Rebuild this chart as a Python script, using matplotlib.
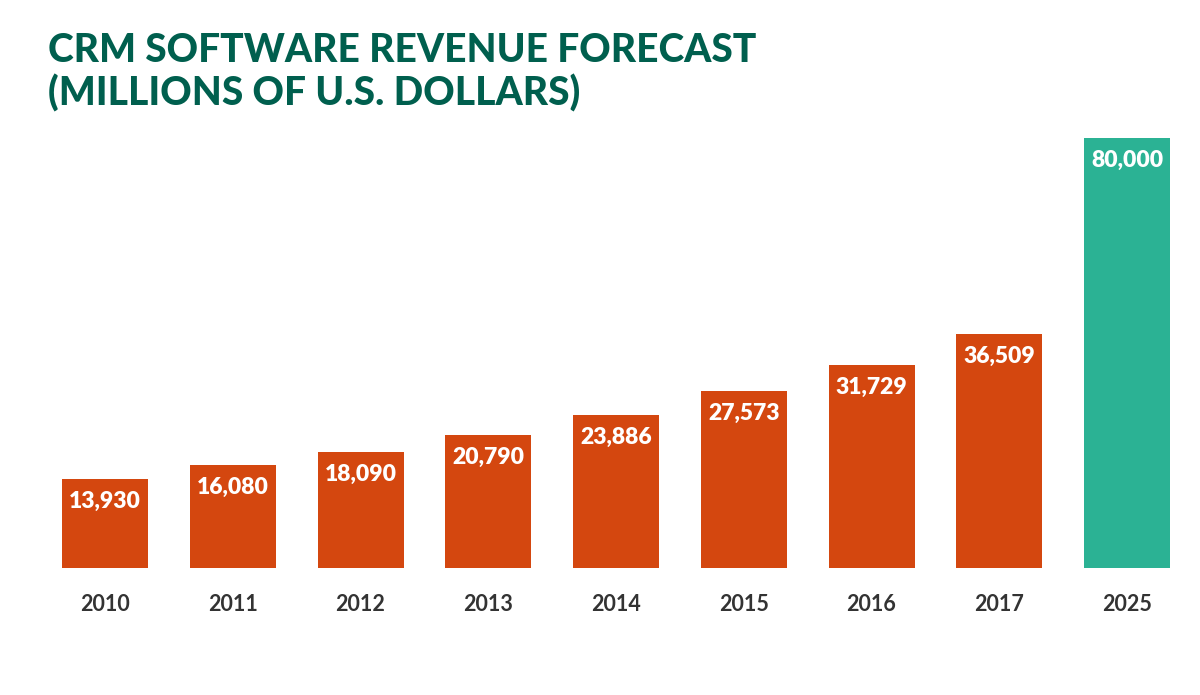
import matplotlib
matplotlib.use("Agg")
import matplotlib.pyplot as plt

years = ["2010", "2011", "2012", "2013", "2014", "2015", "2016", "2017", "2025"]
revenue = [13930, 16080, 18090, 20790, 23886, 27573, 31729, 36509, 80000]

ORANGE, GREEN, TITLE = "#D4470F", "#2BB294", "#005F4E"
INK = "#333333"

fig = plt.figure(figsize=(12, 6.95), dpi=100)
ax = fig.add_axes([0, 0.1827, 1, 0.6187])

colors = [ORANGE] * (len(years) - 1) + [GREEN]
x = range(len(years))
ax.bar(x, revenue, width=0.673, color=colors)

# the 2025 bar is capped at the top of the axes, as in the original
ytop = 67100
ax.set_ylim(0, ytop)
ax.set_xlim(-0.822, 8.571)

for i, v in enumerate(revenue):
    top = min(v, ytop)
    ax.annotate(f"{v:,}", (i, top), xytext=(0, -8.5), textcoords="offset points",
                ha="center", va="top", color="white", fontsize=16.5,
                fontweight="heavy", family="Lato")
    ax.annotate(years[i], (i, 0), xytext=(0, -26), textcoords="offset points",
                ha="center", va="center", color=INK, fontsize=15.5,
                fontweight="bold", family="Lato")

ax.axis("off")

fig.text(0.04, 0.927, "CRM SOFTWARE REVENUE FORECAST", color=TITLE,
         fontsize=28, fontweight="black", family="Lato", va="center")
fig.text(0.04, 0.866, "(MILLIONS OF U.S. DOLLARS)", color=TITLE,
         fontsize=28, fontweight="black", family="Lato", va="center")

fig.savefig("out.png", dpi=100)
